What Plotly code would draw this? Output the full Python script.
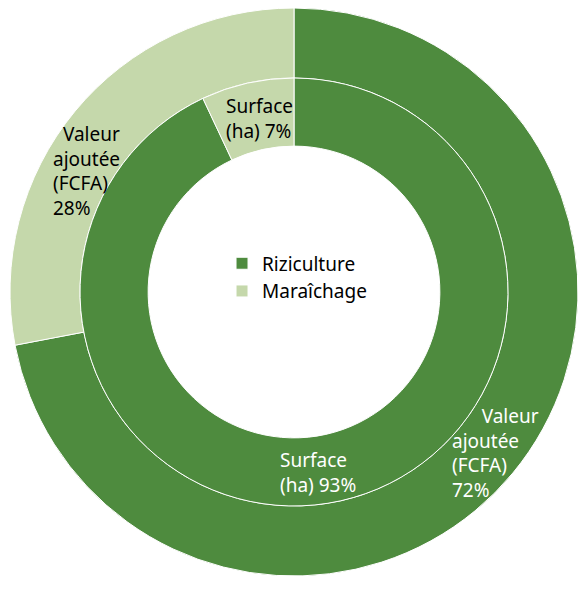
import math
import plotly.graph_objects as go

labels = ["Riziculture", "Maraîchage"]
valeur_ajoutee = [72, 28]
surface = [93, 7]
outer_name = "Valeur<br>ajoutée<br>(FCFA)<br>"
inner_name = "Surface<br>(ha) "

colors = ["#4e8b3e", "#c5d8ab"]
text_colors = ["white", "black"]

# the page body has an 8px margin; keep the figure inside the window
W, H = 570, 574
CX, CY = 286, 284          # figure coords
S = 284 / 292              # scale vs. the reference drawing
R_OUT, R_MID, R_IN = 284, 220 * S, 150 * S
FONT = "Noto Sans"
FS = 19
NB = "\u00a0"

# left edge / middle of each label relative to its slice's mid-angle point
outer_off = [(-37, 2), (-53, 39)]
inner_off = [(-57, 5), (-32, 2)]
outer_indent = [6, 2]      # first-line indent (nbsp) to follow the curve
inner_indent = [0, 0]


def dom(r):
    return dict(x=[max((CX - r) / W, 0), min((CX + r) / W, 1)],
                y=[max(1 - (CY + r) / H, 0), min(1 - (CY - r) / H, 1)])


fig = go.Figure()
fig.add_trace(go.Pie(
    labels=labels, values=valeur_ajoutee, textinfo="none",
    sort=False, direction="clockwise", hole=R_MID / R_OUT, domain=dom(R_OUT),
    marker=dict(colors=colors, line=dict(color="white", width=1)),
    hoverinfo="skip",
))
fig.add_trace(go.Pie(
    labels=labels, values=surface, textinfo="none",
    sort=False, direction="clockwise", hole=R_IN / R_MID, domain=dom(R_MID),
    marker=dict(colors=colors, line=dict(color="white", width=1)),
    hoverinfo="skip",
))


def add_labels(values, prefix, r, offs, indent):
    total = sum(values)
    cum = 0
    for i, v in enumerate(values):
        mid = (cum + v / 2) / total * 2 * math.pi
        cum += v
        px = CX + (r * math.sin(mid) + offs[i][0]) * S
        py = CY + (-r * math.cos(mid) + offs[i][1]) * S
        fig.add_annotation(
            x=px / W, y=1 - py / H, xref="paper", yref="paper",
            text=NB * indent[i] + f"{prefix}{v}%", showarrow=False, align="left",
            xanchor="left", yanchor="middle",
            font=dict(family=FONT, size=FS, color=text_colors[i]),
        )


add_labels(valeur_ajoutee, outer_name, 256, outer_off, outer_indent)
add_labels(surface, inner_name, 185, inner_off, inner_indent)

fig.update_layout(
    width=W, height=H,
    margin=dict(l=0, r=0, t=0, b=0),
    paper_bgcolor="white",
    font=dict(family=FONT, size=FS, color="black"),
    legend=dict(x=(CX - 74 * S) / W, xanchor="left", y=1 - (CY - 15 * S) / H,
                yanchor="middle", bgcolor="rgba(0,0,0,0)", font=dict(size=FS)),
)

fig.write_html("out.html")
